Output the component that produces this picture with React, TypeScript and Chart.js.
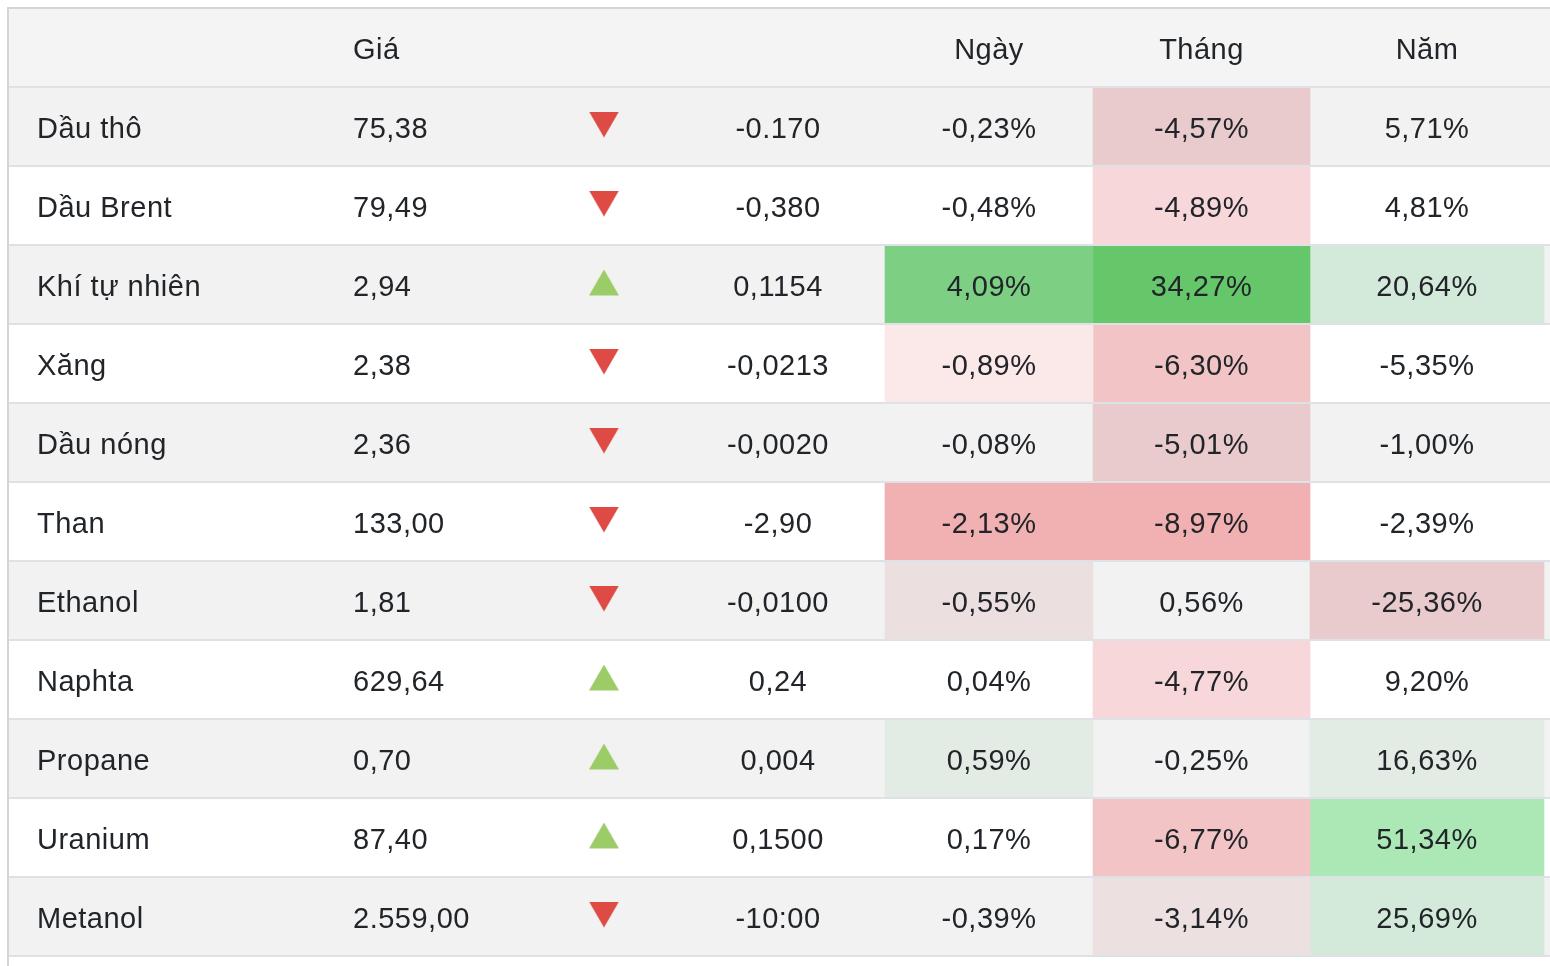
import React, { useEffect, useRef } from 'react';
import { Chart, registerables } from 'chart.js';

Chart.register(...registerables);

// ---------- data ----------
const headerLabels = ['', 'Giá', '', '', 'Ngày', 'Tháng', 'Năm'];
const commodities = ['Dầu thô', 'Dầu Brent', 'Khí tự nhiên', 'Xăng', 'Dầu nóng', 'Than', 'Ethanol', 'Naphta', 'Propane', 'Uranium', 'Metanol'];
const prices = ['75,38', '79,49', '2,94', '2,38', '2,36', '133,00', '1,81', '629,64', '0,70', '87,40', '2.559,00'];
const changes = ['-0.170', '-0,380', '0,1154', '-0,0213', '-0,0020', '-2,90', '-0,0100', '0,24', '0,004', '0,1500', '-10:00'];
const directions = ['down', 'down', 'up', 'down', 'down', 'down', 'down', 'up', 'up', 'up', 'down'];
const dayPct = ['-0,23%', '-0,48%', '4,09%', '-0,89%', '-0,08%', '-2,13%', '-0,55%', '0,04%', '0,59%', '0,17%', '-0,39%'];
const monthPct = ['-4,57%', '-4,89%', '34,27%', '-6,30%', '-5,01%', '-8,97%', '0,56%', '-4,77%', '-0,25%', '-6,77%', '-3,14%'];
const yearPct = ['5,71%', '4,81%', '20,64%', '-5,35%', '-1,00%', '-2,39%', '-25,36%', '9,20%', '16,63%', '51,34%', '25,69%'];

// ---------- styles ----------
const dayColors = [null, null, '#7ccf83', '#fbe9ea', null, '#f1b1b2', '#ecdfe0', null, '#e2ece4', null, null];
const monthColors = ['#eacbcd', '#f8d7da', '#65c76a', '#f2c4c5', '#eacbcd', '#f1b1b2', null, '#f8d7da', null, '#f2c4c5', '#ede0e0'];
const yearColors = [null, null, '#d3e9da', null, null, null, '#eacbcd', null, '#e2ece4', '#abe8b5', '#d3e9da'];

const HEADER_BG = '#f4f4f4';
const STRIPE_BG = '#f2f2f2';
const PLAIN_BG = '#ffffff';
const TEXT_COLOR = '#212529';
const SEP_COLOR = '#dee2e6';
const BORDER_COLOR = '#d5d5d5';
const UP_COLOR = '#9ccc68';
const DOWN_COLOR = '#de4b44';

// ---------- layout (table units = px) ----------
const TABLE_W = 1550;
const ROW_START = 9;
const NAME_X = 37;
const PRICE_X = 353;
const ARROW_X = 604;
const CHANGE_X = 778;
const DAY_COL = [885, 1093];
const MONTH_COL = [1093, 1310];
const YEAR_COL = [1310, 1544];
const BASELINE_OFFSET = 11.5;

const rowKeys = ['__header__', ...commodities];

function makeTriangle(up: boolean, color: string): HTMLCanvasElement {
  const c = document.createElement('canvas');
  c.width = 30;
  c.height = 30;
  const g = c.getContext('2d')!;
  g.fillStyle = color;
  g.beginPath();
  if (up) {
    g.moveTo(15, 0);
    g.lineTo(30, 26);
    g.lineTo(0, 26);
  } else {
    g.moveTo(0, 0);
    g.lineTo(30, 0);
    g.lineTo(15, 26);
  }
  g.closePath();
  g.fill();
  return c;
}

const tablePlugin = {
  id: 'tableText',
  afterDatasetsDraw(chart: any) {
    const ctx = chart.ctx as CanvasRenderingContext2D;
    const xs = chart.scales.x;
    const ys = chart.scales.y;
    const band = ys.getPixelForValue(1) - ys.getPixelForValue(0);
    const top = ys.getPixelForValue(0) - band / 2;
    const right = xs.getPixelForValue(TABLE_W);

    ctx.save();
    // separators
    ctx.lineWidth = 2;
    ctx.strokeStyle = SEP_COLOR;
    for (let i = 1; i <= rowKeys.length; i++) {
      const y = Math.round(top + i * band);
      ctx.beginPath();
      ctx.moveTo(xs.getPixelForValue(ROW_START), y);
      ctx.lineTo(right, y);
      ctx.stroke();
    }
    // outer border (top + left)
    ctx.strokeStyle = BORDER_COLOR;
    ctx.beginPath();
    ctx.moveTo(7, Math.round(top));
    ctx.lineTo(right, Math.round(top));
    ctx.stroke();
    ctx.beginPath();
    ctx.moveTo(8, Math.round(top) - 1);
    ctx.lineTo(8, chart.height);
    ctx.stroke();

    // text
    ctx.font = '29px "Liberation Sans", Arial, sans-serif';
    (ctx as any).letterSpacing = '0.5px';
    ctx.fillStyle = TEXT_COLOR;
    ctx.textBaseline = 'alphabetic';
    const mid = (a: number[]) => xs.getPixelForValue((a[0] + a[1]) / 2);

    const hy = ys.getPixelForValue(0) + BASELINE_OFFSET;
    ctx.textAlign = 'left';
    ctx.fillText(headerLabels[1], xs.getPixelForValue(PRICE_X), hy);
    ctx.textAlign = 'center';
    ctx.fillText(headerLabels[4], mid(DAY_COL), hy);
    ctx.fillText(headerLabels[5], mid(MONTH_COL), hy);
    ctx.fillText(headerLabels[6], mid(YEAR_COL), hy);

    commodities.forEach((name, i) => {
      const y = ys.getPixelForValue(i + 1) + BASELINE_OFFSET;
      ctx.textAlign = 'left';
      ctx.fillText(name, xs.getPixelForValue(NAME_X), y);
      ctx.fillText(prices[i], xs.getPixelForValue(PRICE_X), y);
      ctx.textAlign = 'center';
      ctx.fillText(changes[i], xs.getPixelForValue(CHANGE_X), y);
      ctx.fillText(dayPct[i], mid(DAY_COL), y);
      ctx.fillText(monthPct[i], mid(MONTH_COL), y);
      ctx.fillText(yearPct[i], mid(YEAR_COL), y);
    });
    ctx.restore();
  },
};

export default function App() {
  const ref = useRef<HTMLCanvasElement>(null);

  useEffect(() => {
    document.body.style.margin = '0';
    document.body.style.overflow = 'hidden';
    const upImg = makeTriangle(true, UP_COLOR);
    const downImg = makeTriangle(false, DOWN_COLOR);

    const cellDataset = (col: number[], colors: (string | null)[]) => ({
      type: 'bar' as const,
      data: [null, ...commodities.map(() => [col[0], col[1]])],
      backgroundColor: ['rgba(0,0,0,0)', ...colors.map((c) => c || 'rgba(0,0,0,0)')],
      borderWidth: 0,
      barPercentage: 1,
      categoryPercentage: 1,
      grouped: false,
      order: 5,
    });

    const chart = new Chart(ref.current!, {
      type: 'bar',
      data: {
        labels: rowKeys,
        datasets: [
          {
            type: 'bar',
            data: rowKeys.map(() => [ROW_START, TABLE_W]),
            backgroundColor: rowKeys.map((_, i) => (i === 0 ? HEADER_BG : i % 2 === 1 ? STRIPE_BG : PLAIN_BG)),
            borderWidth: 0,
            barPercentage: 1,
            categoryPercentage: 1,
            grouped: false,
            order: 10,
          } as any,
          cellDataset(DAY_COL, dayColors) as any,
          cellDataset(MONTH_COL, monthColors) as any,
          cellDataset(YEAR_COL, yearColors) as any,
          {
            type: 'scatter',
            data: commodities.map((c) => ({ x: ARROW_X, y: c })),
            pointStyle: directions.map((d) => (d === 'up' ? upImg : downImg)),
            pointRadius: 5,
            showLine: false,
            order: 0,
          } as any,
        ],
      },
      options: {
        indexAxis: 'y',
        responsive: false,
        animation: false,
        devicePixelRatio: 1,
        events: [],
        layout: { autoPadding: false, padding: { top: 8, bottom: 10, left: 0, right: 0 } },
        plugins: { legend: { display: false }, tooltip: { enabled: false } },
        scales: {
          x: { type: 'linear', min: 0, max: TABLE_W, display: false },
          y: { type: 'category', labels: rowKeys, offset: true, display: false },
        },
      } as any,
      plugins: [tablePlugin],
    });
    return () => chart.destroy();
  }, []);

  return (
    <div style={{ width: 1550, height: 966, background: '#fff' }}>
      <canvas ref={ref} width={1550} height={966} style={{ display: 'block' }} />
    </div>
  );
}
